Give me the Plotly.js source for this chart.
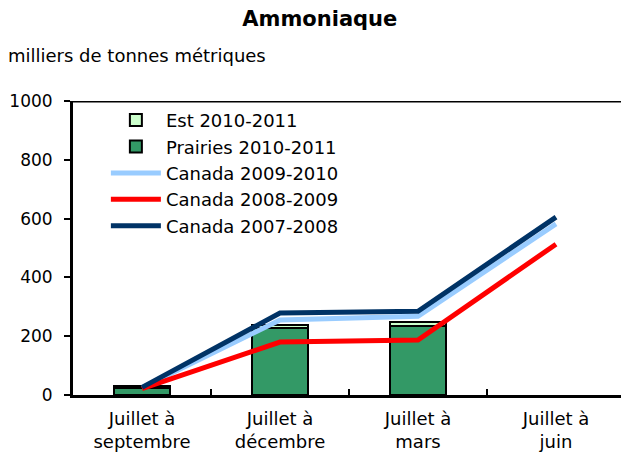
<!DOCTYPE html>
<html>
<head>
<meta charset="utf-8">
<script src="https://cdn.plot.ly/plotly-3.0.1.min.js"></script>
<style>html,body{margin:0;padding:0;background:#fff;}#chart{width:621px;height:454px;}</style>
</head>
<body>
<div id="chart"></div>
<script>
const categories = ["Juillet à<br>septembre", "Juillet à<br>décembre", "Juillet à<br>mars", "Juillet à<br>juin"];
const est2010 = [8, 10, 12, null];
const prairies2010 = [24, 228, 236, null];
const canada0910 = [25, 255, 268, 582];
const canada0809 = [22, 180, 187, 513];
const canada0708 = [26, 279, 285, 605];
const yTicks = [0, 200, 400, 600, 800, 1000];

const font = "DejaVu Sans, Verdana, sans-serif";

const traces = [
  {type: "bar", name: "Prairies 2010-2011", x: categories, y: prairies2010,
   marker: {color: "#339966", line: {color: "#000", width: 2}}, legendrank: 2},
  {type: "bar", name: "Est 2010-2011", x: categories, y: est2010,
   marker: {color: "#ccffcc", line: {color: "#000", width: 2}}, legendrank: 1},
  {type: "scatter", mode: "lines", name: "Canada 2009-2010", x: categories, y: canada0910,
   line: {color: "#99ccff", width: 5}, legendrank: 3},
  {type: "scatter", mode: "lines", name: "Canada 2008-2009", x: categories, y: canada0809,
   line: {color: "#ff0000", width: 5}, legendrank: 4},
  {type: "scatter", mode: "lines", name: "Canada 2007-2008", x: categories, y: canada0708,
   line: {color: "#003366", width: 5}, legendrank: 5}
];

const layout = {
  width: 621, height: 454,
  margin: {l: 73, r: 0, t: 101, b: 59},
  paper_bgcolor: "#fff", plot_bgcolor: "#fff",
  font: {family: font, size: 16, color: "#000"},
  title: {text: "<b>Ammoniaque</b>", x: 0.515, xanchor: "center", y: 0.958, yanchor: "middle",
          font: {family: font, size: 21, color: "#000"}},
  barmode: "stack",
  bargap: 0.6,
  showlegend: true,
  legend: {x: 0.06, y: 0.997, xanchor: "left", yanchor: "top", bgcolor: "rgba(0,0,0,0)",
           traceorder: "normal", font: {family: font, size: 18}, tracegroupgap: 0,
           itemwidth: 50},
  xaxis: {type: "category", range: [-0.5, 3.471], showline: true, linecolor: "#000", linewidth: 3,
          ticks: "inside", tickson: "boundaries", ticklen: 6, tickwidth: 2, tickcolor: "#000",
          showgrid: false, zeroline: false, fixedrange: true, ticklabelstandoff: 5,
          tickfont: {family: font, size: 18}},
  yaxis: {range: [0, 1000], tickvals: yTicks, ticktext: yTicks.map(String),
          showline: true, linecolor: "#000", linewidth: 3,
          ticks: "outside", ticklen: 6, tickwidth: 2, tickcolor: "#000", ticklabelstandoff: 8,
          showgrid: false, zeroline: false, tickfont: {family: font, size: 17}},
  shapes: [{type: "line", xref: "paper", yref: "y", x0: 0, x1: 1, y0: 1000, y1: 1000,
            line: {color: "#000", width: 3}}],
  annotations: [{text: "milliers de tonnes métriques", xref: "paper", yref: "paper",
                 x: -0.123, y: 1.155, xanchor: "left", yanchor: "middle", showarrow: false,
                 font: {family: font, size: 18, color: "#000"}}]
};

Plotly.newPlot("chart", traces, layout, {displayModeBar: false, staticPlot: true});
</script>
</body>
</html>
